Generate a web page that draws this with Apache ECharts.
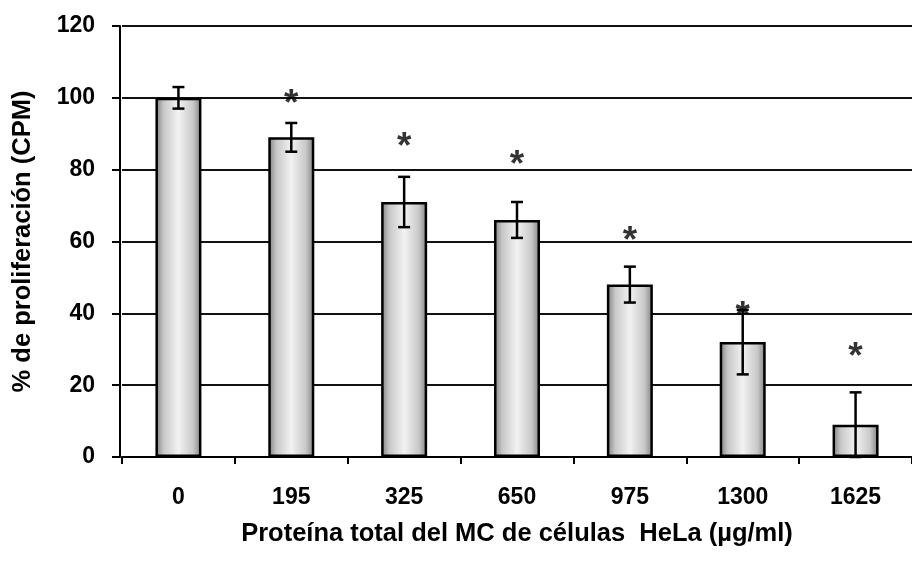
<!DOCTYPE html>
<html>
<head>
<meta charset="utf-8">
<script src="https://cdn.jsdelivr.net/npm/echarts@6/dist/echarts.min.js"></script>
<style>
html,body{margin:0;padding:0;background:#fff;}
#chart{width:912px;height:563px;}
</style>
</head>
<body>
<div id="chart"></div>
<script>
var categories = ['0', '195', '325', '650', '975', '1300', '1625'];
var values = [100, 89, 71, 66, 48, 32, 9];
var errors = [3, 4, 7, 5, 5, 9, 9];
var starValues = ['-', 100, 88, 83, 62, 41, 29.5];
var yTicks = [0, 20, 40, 60, 80, 100, 120];

var chart = echarts.init(document.getElementById('chart'));
var FONT = '"Liberation Sans", Arial, sans-serif';

var errData = values.map(function (v, i) { return [i, v - errors[i], v + errors[i]]; });

chart.setOption({
  animation: false,
  backgroundColor: '#fff',
  grid: { left: 122, top: 26, width: 801, height: 431, containLabel: false },
  xAxis: {
    type: 'category',
    data: categories,
    boundaryGap: true,
    axisLine: { show: true, lineStyle: { color: '#000', width: 2 } },
    axisTick: { show: true, alignWithLabel: false, length: 7, lineStyle: { color: '#000', width: 2 } },
    axisLabel: { color: '#000', fontFamily: FONT, fontWeight: 'bold', fontSize: 23, margin: 29 },
    name: 'Proteína total del MC de células  HeLa (µg/ml)',
    nameLocation: 'middle',
    nameGap: 64,
    nameTextStyle: { color: '#000', fontFamily: FONT, fontWeight: 'bold', fontSize: 25.5 }
  },
  yAxis: {
    type: 'value',
    min: yTicks[0],
    max: yTicks[yTicks.length - 1],
    interval: 20,
    offset: 2,
    axisLine: { show: true, lineStyle: { color: '#000', width: 2 } },
    axisTick: { show: true, length: 8, lineStyle: { color: '#000', width: 2 } },
    axisLabel: { color: '#000', fontFamily: FONT, fontWeight: 'bold', fontSize: 23, margin: 25 },
    splitLine: { show: true, lineStyle: { color: '#111', width: 2 } },
    name: '% de proliferación (CPM)',
    nameLocation: 'middle',
    nameGap: 84,
    nameTextStyle: { color: '#000', fontFamily: FONT, fontWeight: 'bold', fontSize: 25.5 }
  },
  series: [
    {
      type: 'bar',
      data: values,
      barWidth: 46,
      z: 2,
      itemStyle: {
        borderColor: '#000',
        borderWidth: 2.5,
        color: new echarts.graphic.LinearGradient(0, 0, 1, 0, [
          { offset: 0, color: '#7e7e7e' },
          { offset: 0.18, color: '#c8c8c8' },
          { offset: 0.5, color: '#f2f2f2' },
          { offset: 0.82, color: '#c8c8c8' },
          { offset: 1, color: '#7e7e7e' }
        ])
      }
    },
    {
      type: 'custom',
      data: errData,
      z: 5,
      renderItem: function (params, api) {
        var i = api.value(0);
        var lo = api.coord([i, api.value(1)]);
        var hi = api.coord([i, api.value(2)]);
        var w = 6;
        var st = { stroke: '#000', lineWidth: 2.5 };
        return {
          type: 'group',
          children: [
            { type: 'line', shape: { x1: lo[0], y1: lo[1], x2: hi[0], y2: hi[1] }, style: st },
            { type: 'line', shape: { x1: lo[0] - w, y1: lo[1], x2: lo[0] + w, y2: lo[1] }, style: st },
            { type: 'line', shape: { x1: hi[0] - w, y1: hi[1], x2: hi[0] + w, y2: hi[1] }, style: st }
          ]
        };
      }
    },
    {
      type: 'scatter',
      data: starValues,
      symbolSize: 0,
      z: 6,
      label: {
        show: true,
        position: 'inside',
        formatter: '*',
        color: '#000',
        fontFamily: FONT,
        fontWeight: 'bold',
        fontSize: 37,
        offset: [0, 7]
      }
    }
  ]
});
</script>
</body>
</html>
